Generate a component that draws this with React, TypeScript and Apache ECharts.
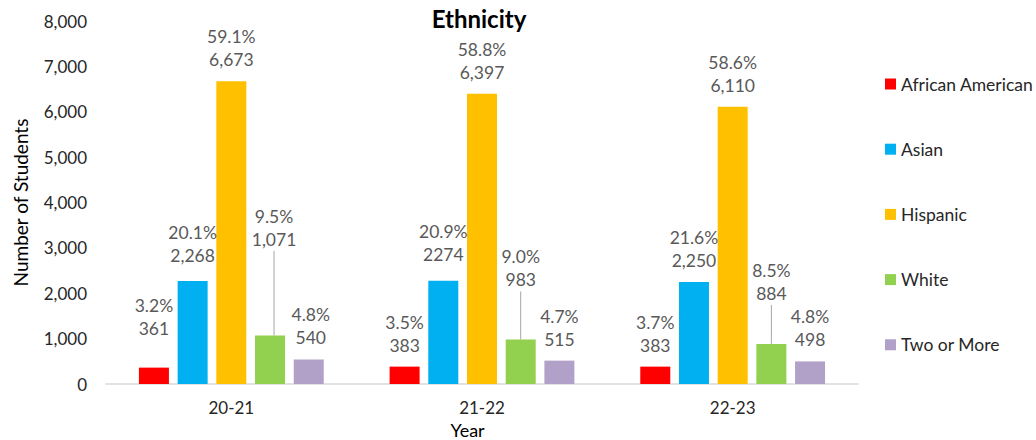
import React, { useEffect, useRef } from "react";
import * as echarts from "echarts";

const years = ["20-21", "21-22", "22-23"];
const seriesNames = ["African American", "Asian", "Hispanic", "White", "Two or More"];
const africanAmerican = [361, 383, 383];
const asian = [2268, 2274, 2250];
const hispanic = [6673, 6397, 6110];
const white = [1071, 983, 884];
const twoOrMore = [540, 515, 498];
const africanAmericanPct = ["3.2%", "3.5%", "3.7%"];
const asianPct = ["20.1%", "20.9%", "21.6%"];
const hispanicPct = ["59.1%", "58.8%", "58.6%"];
const whitePct = ["9.5%", "9.0%", "8.5%"];
const twoOrMorePct = ["4.8%", "4.7%", "4.8%"];
const asianCountText = ["2,268", "2274", "2,250"];
const yMin = 0;
const yMax = 8000;
const yInterval = 1000;

const COLORS = ["#FF0000", "#00B0F0", "#FFC000", "#92D050", "#B1A0C7"];
const FONT = "Lato";

// label nudges (styling only)
const SHIFTS: { dx: number; dy: number }[][] = [
  [{ dx: 0, dy: -17.5 }, { dx: 0, dy: 0 }, { dx: 0, dy: 0 }],
  [{ dx: 0, dy: -4 }, { dx: 0, dy: -5 }, { dx: 0, dy: 0 }],
  [{ dx: 0, dy: 0 }, { dx: 0, dy: 0 }, { dx: 0, dy: 0 }],
  [{ dx: 4, dy: -74.5 }, { dx: 0, dy: -38 }, { dx: 0, dy: -29 }],
  [{ dx: 2, dy: 0 }, { dx: 0, dy: 0 }, { dx: 0, dy: 0 }],
];

const fmt = (v: number) => v.toLocaleString("en-US");

export default function App() {
  const ref = useRef<HTMLDivElement>(null);
  useEffect(() => {
    document.body.style.margin = "0";
    if (!ref.current) return;
    const chart = echarts.init(ref.current, undefined, { renderer: "svg" });
    const values = [africanAmerican, asian, hispanic, white, twoOrMore];
    const pcts = [africanAmericanPct, asianPct, hispanicPct, whitePct, twoOrMorePct];
    const counts = values.map((arr, si) => (si === 1 ? asianCountText : arr.map(fmt)));

    const series = seriesNames.map((name, si) => ({
      name,
      type: "bar",
      data: values[si],
      barWidth: 30,
      barGap: "29%",
      itemStyle: { color: COLORS[si] },
      label: {
        show: true,
        position: "top",
        distance: 10,
        fontFamily: FONT,
        fontSize: 17.5,
        lineHeight: 23,
        color: "#595959",
        formatter: (p: any) => `${pcts[si][p.dataIndex]}\n${counts[si][p.dataIndex]}`,
      },
      labelLayout: (p: any) => SHIFTS[si][p.dataIndex],
      labelLine: si === 3 ? { show: true, lineStyle: { color: "#A6A6A6", width: 1 } } : { show: false },
    }));

    chart.setOption({
      animation: false,
      textStyle: { fontFamily: FONT },
      title: {
        text: "Ethnicity",
        left: 474,
        textAlign: "center",
        top: 1,
        textStyle: { fontFamily: FONT, fontSize: 24, fontWeight: "bold", color: "#000000" },
      },
      legend: {
        orient: "vertical",
        left: 880,
        top: 70,
        itemWidth: 11,
        itemHeight: 11,
        itemGap: 47.2,
        icon: "rect",
        textStyle: { fontFamily: FONT, fontSize: 17.5, lineHeight: 17, color: "#262626" },
        data: seriesNames,
      },
      grid: { left: 106, right: 178, top: 21, bottom: 56, outerBoundsMode: "none", containLabel: false },
      xAxis: {
        type: "category",
        data: years,
        name: "Year",
        nameLocation: "middle",
        nameGap: 34,
        nameTextStyle: { fontFamily: FONT, fontSize: 18, lineHeight: 18, color: "#000000", padding: [0, 29, 0, 0] },
        axisLine: { lineStyle: { color: "#D9D9D9", width: 1.5 } },
        axisTick: { show: false },
        axisLabel: { fontFamily: FONT, fontSize: 17, color: "#262626", margin: 15 },
      },
      yAxis: {
        type: "value",
        min: yMin,
        max: yMax,
        interval: yInterval,
        name: "Number of Students",
        nameLocation: "middle",
        nameGap: 76,
        nameTextStyle: { fontFamily: FONT, fontSize: 19, color: "#000000" },
        axisLine: { show: false },
        axisTick: { show: false },
        splitLine: { show: false },
        axisLabel: { fontFamily: FONT, fontSize: 17, color: "#262626", margin: 19, formatter: (v: number) => fmt(v) },
      },
      series,
    });
    return () => chart.dispose();
  }, []);
  return <div ref={ref} style={{ width: 1036, height: 440 }} />;
}
